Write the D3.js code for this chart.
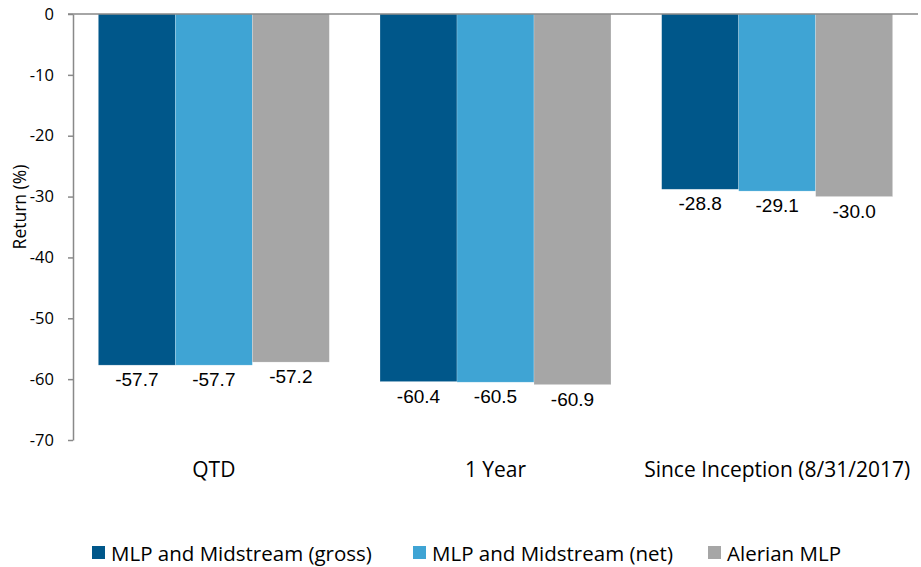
<!DOCTYPE html>
<html>
<head>
<meta charset="utf-8">
<script src="https://cdn.jsdelivr.net/npm/d3@7"></script>
<style>
  body { margin: 0; background: #fff; }
  svg { display: block; }
</style>
</head>
<body>
<svg id="chart" width="921" height="567"></svg>
<script>
// Period categories and the three return series (%)
const categories = ["QTD", "1 Year", "Since Inception (8/31/2017)"];
const seriesNames = ["MLP and Midstream (gross)", "MLP and Midstream (net)", "Alerian MLP"];
const gross = [-57.7, -60.4, -28.8];
const net = [-57.7, -60.5, -29.1];
const alerian = [-57.2, -60.9, -30.0];
const yTicks = [0, -10, -20, -30, -40, -50, -60, -70];
const colors = ["#00578a", "#3fa4d4", "#a6a6a6"];

const seriesValues = [gross, net, alerian];
const rows = categories.map((c, i) => ({
  category: c,
  values: seriesNames.map((s, j) => ({ series: s, value: seriesValues[j][i], idx: j }))
}));

const svg = d3.select("#chart");
const margin = { left: 73, right: 3, top: 14, bottom: 127 };
const W = 921, H = 567;

const x0 = d3.scaleBand()
  .domain(categories)
  .range([margin.left, W - margin.right])
  .paddingInner(0.18)
  .paddingOuter(0.09);
const x1 = d3.scaleBand()
  .domain(seriesNames)
  .range([0, x0.bandwidth()])
  .padding(0);
const y = d3.scaleLinear().domain([0, -70]).range([margin.top, H - margin.bottom]);

const axisColor = "#898989";
const uiFont = "'Open Sans', 'Noto Sans', sans-serif";
// plain hyphen-minus for negative numbers
const fmt1 = v => v.toFixed(1);

// Y axis
const yAxis = svg.append("g")
  .attr("transform", `translate(${margin.left},0)`)
  .call(d3.axisLeft(y).tickValues(yTicks).tickSize(5).tickSizeOuter(0).tickFormat(d => String(d)));
yAxis.select(".domain").attr("stroke", axisColor).attr("stroke-width", 1.5);
yAxis.selectAll(".tick line").attr("stroke", axisColor).attr("stroke-width", 1.5);
yAxis.selectAll(".tick text")
  .attr("x", -19)
  .attr("fill", "#000")
  .style("font-family", uiFont)
  .style("font-size", "16.5px");

// Bars
const groups = svg.append("g").selectAll("g")
  .data(rows)
  .join("g")
  .attr("transform", d => `translate(${x0(d.category)},0)`);

groups.selectAll("rect")
  .data(d => d.values)
  .join("rect")
  .attr("x", d => x1(d.series))
  .attr("y", y(0))
  .attr("width", x1.bandwidth())
  .attr("height", d => y(d.value) - y(0))
  .attr("fill", d => colors[d.idx])
  .attr("stroke", "#ffffff")
  .attr("stroke-opacity", 0.35)
  .attr("stroke-width", 0.6);

// Value labels below each bar end
groups.selectAll("text.val")
  .data(d => d.values)
  .join("text")
  .attr("class", "val")
  .attr("x", d => x1(d.series) + x1.bandwidth() / 2)
  .attr("y", d => y(d.value) + 21)
  .attr("text-anchor", "middle")
  .style("font-family", "'Liberation Sans', Arial, sans-serif")
  .style("font-size", "19px")
  .attr("fill", "#000")
  .text(d => fmt1(d.value));

// Zero baseline
svg.append("line")
  .attr("x1", margin.left - 5)
  .attr("x2", W - margin.right)
  .attr("y1", y(0))
  .attr("y2", y(0))
  .attr("stroke", axisColor)
  .attr("stroke-width", 1.5);

// Category labels
svg.append("g").selectAll("text")
  .data(categories)
  .join("text")
  .attr("x", d => x0(d) + x0.bandwidth() / 2)
  .attr("y", 477)
  .attr("text-anchor", "middle")
  .style("font-family", uiFont)
  .style("font-size", "21px")
  .attr("fill", "#000")
  .text(d => d);

// Y axis title
svg.append("text")
  .attr("transform", "translate(26,207) rotate(-90)")
  .attr("text-anchor", "middle")
  .style("font-family", uiFont)
  .style("font-size", "17.5px")
  .attr("fill", "#000")
  .text("Return (%)");

// Legend
const legendX = [92, 413, 708];
const legend = svg.append("g").selectAll("g")
  .data(seriesNames)
  .join("g")
  .attr("transform", (d, i) => `translate(${legendX[i]},546)`);
legend.append("rect")
  .attr("width", 13).attr("height", 13)
  .attr("fill", (d, i) => colors[i]);
legend.append("text")
  .attr("x", 19)
  .attr("y", 15)
  .style("font-family", uiFont)
  .style("font-size", "20.5px")
  .attr("fill", "#000")
  .text(d => d);
</script>
</body>
</html>
